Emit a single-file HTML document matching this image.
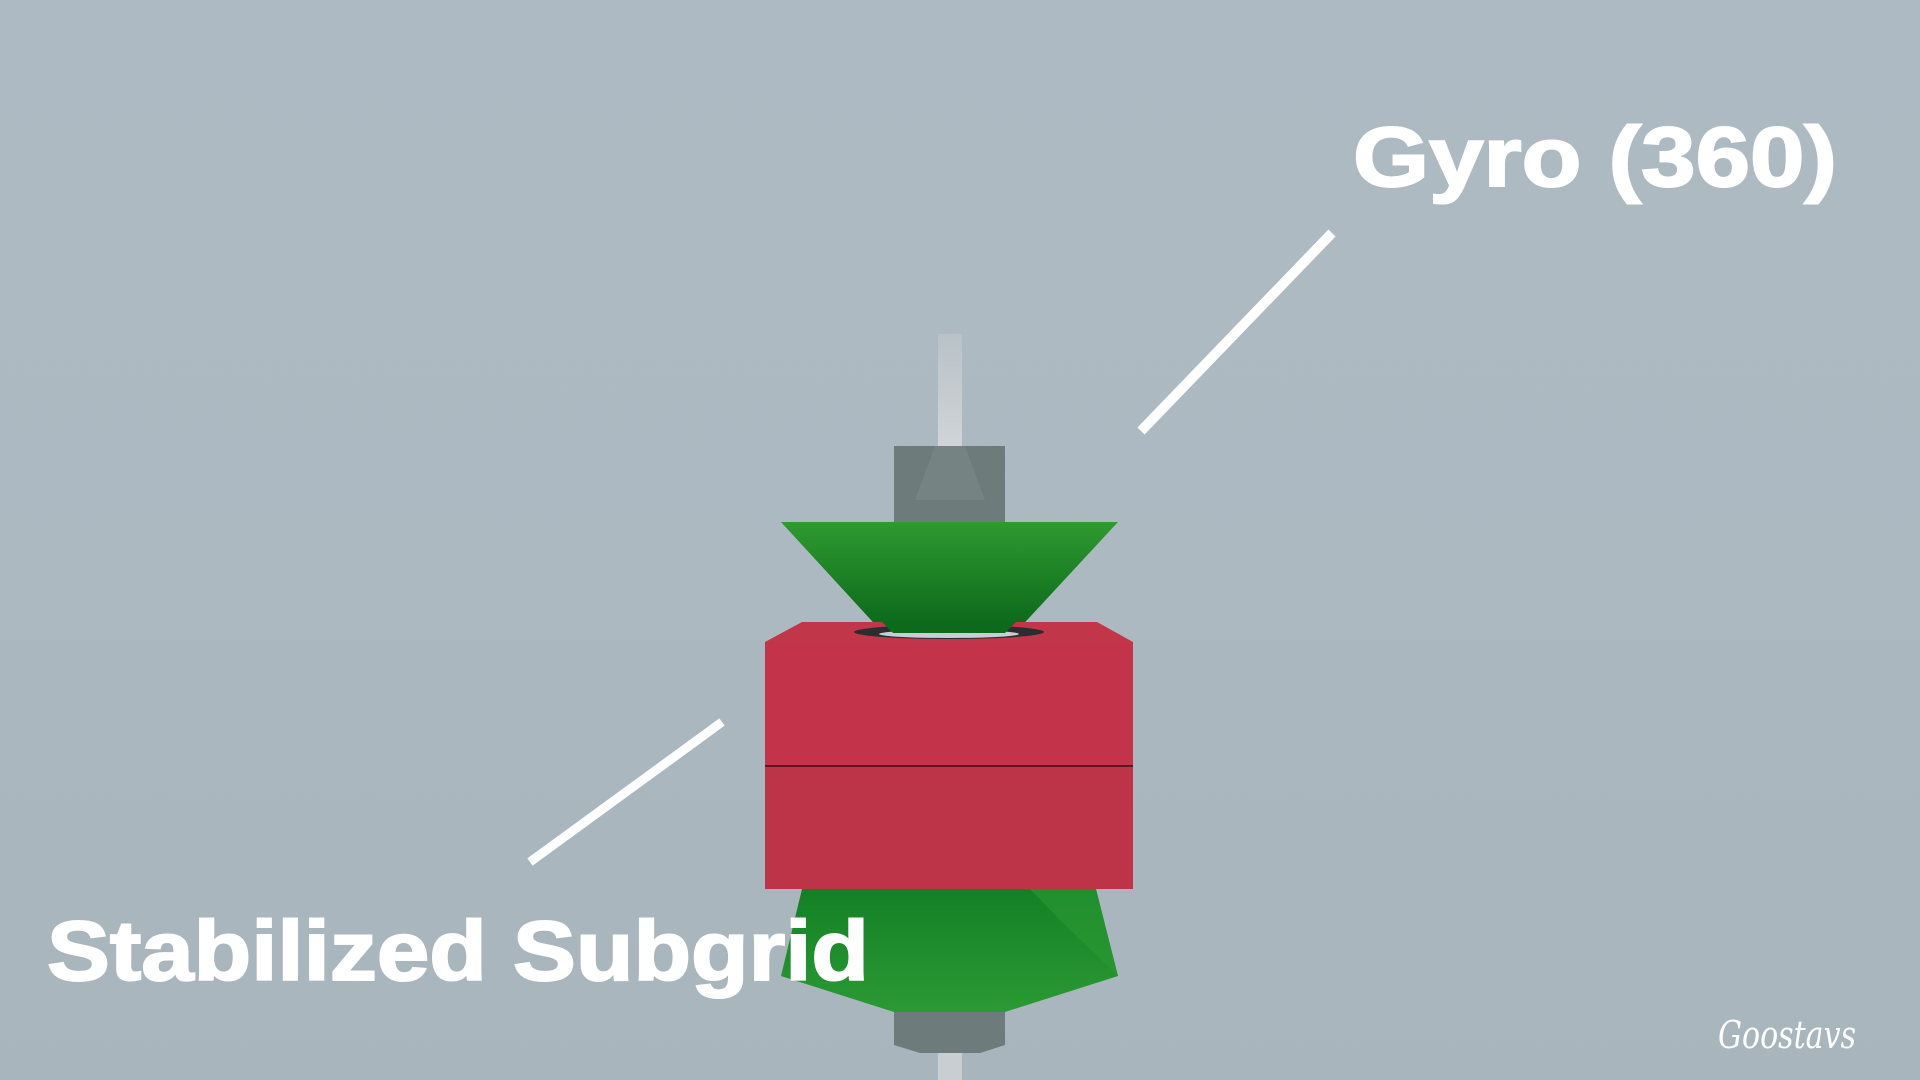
<!DOCTYPE html>
<html><head><meta charset="utf-8"><style>
html,body{margin:0;padding:0;width:1920px;height:1080px;overflow:hidden}
body{background:linear-gradient(#aebac3 0%,#adb9c1 60%,#a9b5bd 100%)}
</style></head><body>
<svg width="1920" height="1080" viewBox="0 0 1920 1080" xmlns="http://www.w3.org/2000/svg">
<defs>
<linearGradient id="g1" x1="0" y1="0" x2="0" y2="1"><stop offset="0" stop-color="#2f9a30"/><stop offset="1" stop-color="#0a661a"/></linearGradient>
<linearGradient id="g2" x1="0" y1="0" x2="0" y2="1"><stop offset="0" stop-color="#148026"/><stop offset="1" stop-color="#2a9a34"/></linearGradient>
<linearGradient id="sh" x1="0" y1="0" x2="0" y2="1"><stop offset="0" stop-color="#b8c2c7"/><stop offset="1" stop-color="#d0d5d8"/></linearGradient>
</defs>
<rect x="0" y="640" width="1920" height="440" fill="#a9b5bd" opacity="0.5"/>
<rect x="938" y="334" width="24" height="115" fill="url(#sh)"/>
<rect x="938" y="1050" width="24" height="30" fill="#c8ced1"/>
<polygon points="894,446 1005,446 1005,522 894,522" fill="#6e7b7b"/>
<polygon points="935,446 965,446 985,500 915,500" fill="#7c8888" opacity="0.6"/>
<polygon points="781,522 1118,522 1016,632 882,632" fill="url(#g1)"/>
<polygon points="802,622 1097,622 1133,642 765,642" fill="#c23649"/>
<ellipse cx="949" cy="632" rx="95" ry="7" fill="#2a2e30"/>
<ellipse cx="949" cy="634" rx="70" ry="4" fill="#c8ced1"/>
<polygon points="882,622 1016,622 1005,633 893,633" fill="#0d6a1c"/>
<rect x="765" y="642" width="368" height="123" fill="#c3344a"/>
<rect x="765" y="765" width="368" height="2" fill="#5a1a22"/>
<rect x="765" y="767" width="368" height="122" fill="#bd3449"/>
<polygon points="802,889 1096,889 1118,976 1005,1012 894,1012 781,976" fill="url(#g2)"/>
<polygon points="1030,889 1096,889 1118,976 1060,920" fill="#2a9a34" opacity="0.6"/>
<polygon points="894,1012 1005,1012 1005,1045 980,1053 920,1053 894,1045" fill="#6e7b7b"/>
<line x1="1332" y1="233" x2="1141" y2="431" stroke="#fff" stroke-width="10"/>
<line x1="722" y1="722" x2="530" y2="862" stroke="#fff" stroke-width="9"/>
<text x="1353" y="186" font-family="Liberation Sans, sans-serif" font-weight="bold" font-size="84" fill="#fff" textLength="484" lengthAdjust="spacingAndGlyphs" stroke="#fff" stroke-width="2">Gyro (360)</text>
<text x="47" y="980" font-family="Liberation Sans, sans-serif" font-weight="bold" font-size="84" fill="#fff" textLength="822" lengthAdjust="spacingAndGlyphs" stroke="#fff" stroke-width="2">Stabilized Subgrid</text>
<text x="1718" y="1048" font-family="DejaVu Serif, serif" font-style="italic" font-size="38" fill="#fff" textLength="138" lengthAdjust="spacingAndGlyphs">Goostavs</text>
</svg>
</body></html>
